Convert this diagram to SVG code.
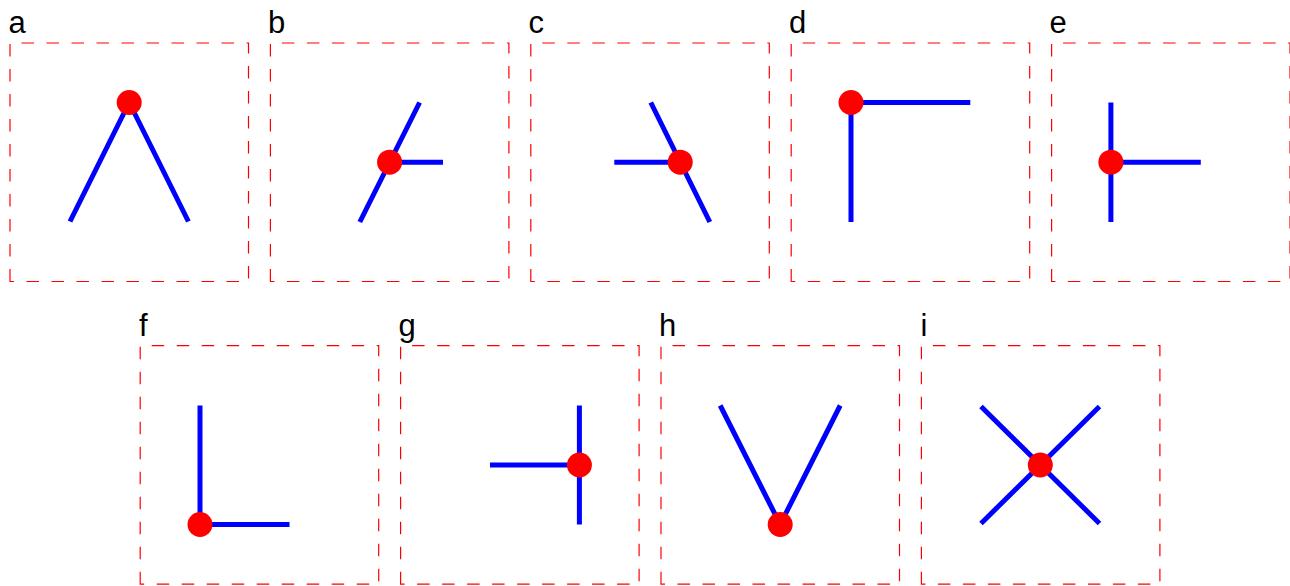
<svg xmlns="http://www.w3.org/2000/svg" width="1290" height="586" viewBox="0 0 1290 586">
<style>
.box{fill:none;stroke:#ff0000;stroke-width:1.2;stroke-dasharray:12.5 12.5}
.lbl{font-family:"Liberation Sans",Arial,sans-serif;font-size:31px;fill:#000}
.edge{stroke:#0000ff;stroke-width:5;fill:none}
.node{fill:#ff0000}
</style>
<rect width="1290" height="586" fill="#fff"/>
<g id="panel-a">
<path class="box" d="M10,281.5 V43 H248.5 V281.5 Z"/>
<text class="lbl" x="8.5" y="33">a</text>
</g>
<g id="panel-b">
<path class="box" d="M270.4,281.5 V43 H508.9 V281.5 Z"/>
<text class="lbl" x="268" y="33">b</text>
</g>
<g id="panel-c">
<path class="box" d="M530.8,281.5 V43 H769.3 V281.5 Z"/>
<text class="lbl" x="528.5" y="33">c</text>
</g>
<g id="panel-d">
<path class="box" d="M791.2,281.5 V43 H1029.7 V281.5 Z"/>
<text class="lbl" x="789" y="33">d</text>
</g>
<g id="panel-e">
<path class="box" d="M1051.6,281.5 V43 H1290 V281.5 Z"/>
<text class="lbl" x="1049.5" y="33">e</text>
</g>
<g id="panel-f">
<path class="box" d="M140.2,584.2 V345.7 H378.7 V584.2 Z"/>
<text class="lbl" x="139" y="336">f</text>
</g>
<g id="panel-g">
<path class="box" d="M400.6,584.2 V345.7 H639.1 V584.2 Z"/>
<text class="lbl" x="398.5" y="336">g</text>
</g>
<g id="panel-h">
<path class="box" d="M661,584.2 V345.7 H899.5 V584.2 Z"/>
<text class="lbl" x="659" y="336">h</text>
</g>
<g id="panel-i">
<path class="box" d="M921.4,584.2 V345.7 H1159.9 V584.2 Z"/>
<text class="lbl" x="920.5" y="336">i</text>
</g>
<g id="connectors">
<path class="edge" d="M70,221.5 L129.2,102.5 L188.4,221.5"/>
<path class="edge" d="M359.8,222 L419.6,102.5 M389.6,162.2 H443"/>
<path class="edge" d="M650.8,102.5 L709.8,222 M614.3,162.2 H680.2"/>
<path class="edge" d="M970.3,102.5 H851 V222"/>
<path class="edge" d="M1110.9,102.5 V222 M1110.9,162.2 H1200.8"/>
<path class="edge" d="M200,405.5 V524.5 H289.5"/>
<path class="edge" d="M579.4,405.5 V524.5 M490,465 H579.4"/>
<path class="edge" d="M720.2,405.5 L780.2,524.5 L840.2,405.5"/>
<path class="edge" d="M981,406.5 L1099.5,523.5 M981,523.5 L1099.5,406.5"/>
</g>
<g id="nodes">
<circle id="node-a" class="node" cx="129.2" cy="102.5" r="12.5"/>
<circle id="node-b" class="node" cx="389.6" cy="162.2" r="12.5"/>
<circle id="node-c" class="node" cx="680.2" cy="162.2" r="12.5"/>
<circle id="node-d" class="node" cx="851" cy="102.5" r="12.5"/>
<circle id="node-e" class="node" cx="1110.9" cy="162.2" r="12.5"/>
<circle id="node-f" class="node" cx="200" cy="524.5" r="12.5"/>
<circle id="node-g" class="node" cx="579.4" cy="465" r="12.5"/>
<circle id="node-h" class="node" cx="780.2" cy="524.5" r="12.5"/>
<circle id="node-i" class="node" cx="1040.3" cy="465" r="12.5"/>
</g>
</svg>
